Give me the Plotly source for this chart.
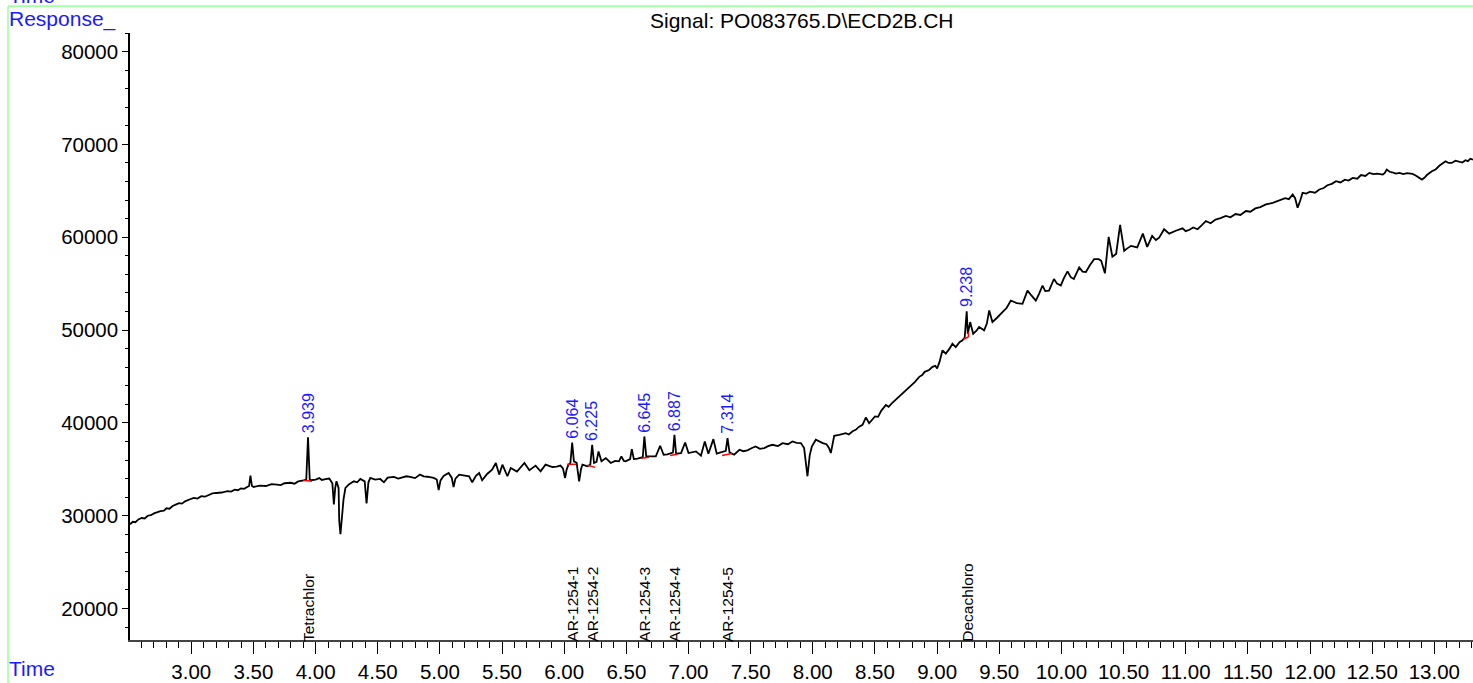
import plotly.graph_objects as go

# ---- chromatogram trace (time in min, response), in sections ----
time_a = [2.507, 2.53, 2.55, 2.575, 2.60, 2.625, 2.65, 2.675, 2.70, 2.725,
          2.752, 2.78, 2.80, 2.825, 2.85, 2.875, 2.90, 2.925, 2.95, 2.985,
          3.02, 3.05, 3.08, 3.11, 3.14, 3.17, 3.20, 3.245, 3.29, 3.32,
          3.35, 3.375, 3.40, 3.425, 3.45, 3.465, 3.476, 3.488, 3.503]
resp_a = [29075, 29350, 29300, 29600, 29750, 29700, 30000, 30050, 30250, 30400,
          30500, 30550, 30800, 30750, 31050, 31200, 31350, 31300, 31550, 31750,
          31925, 31850, 32100, 32050, 32250, 32400, 32450, 32500, 32640, 32600,
          32800, 32750, 32950, 32900, 33100, 33200, 34320, 33200, 33100]

time_b = [3.55, 3.60, 3.645, 3.69, 3.72, 3.75, 3.80, 3.83, 3.86, 3.905,
          3.925, 3.939, 3.953, 3.964, 4.00, 4.03, 4.05, 4.09, 4.11, 4.135,
          4.147, 4.158, 4.168, 4.185, 4.19, 4.20, 4.21, 4.225, 4.24, 4.27,
          4.308, 4.335, 4.36, 4.395, 4.41, 4.425, 4.44, 4.48, 4.52, 4.55,
          4.58, 4.63, 4.665, 4.70, 4.73, 4.76, 4.80, 4.84, 4.87, 4.90,
          4.95, 4.975, 4.99, 5.005, 5.03, 5.07, 5.095, 5.11, 5.125]
resp_b = [33250, 33200, 33400, 33360, 33300, 33500, 33550, 33450, 33700, 33820,
          33900, 38460, 33900, 33820, 33900, 34050, 33850, 33960, 34000, 33500,
          31220, 33000, 33710, 33000, 29500, 28000, 29800, 31800, 33000, 33400,
          33710, 33600, 33960, 33700, 31325, 33600, 34070, 33900, 33960, 33600,
          34100, 34180, 34000, 34100, 34250, 34180, 34050, 34430, 34250, 34200,
          34070, 33900, 32750, 33800, 34290, 34600, 34100, 33100, 34000]

time_c = [5.155, 5.20, 5.235, 5.26, 5.29, 5.316, 5.34, 5.38, 5.42, 5.45,
          5.477, 5.503, 5.543, 5.57, 5.62, 5.68, 5.72, 5.77, 5.81, 5.85,
          5.905, 5.94, 5.97, 5.99, 6.007, 6.02, 6.034, 6.05, 6.064, 6.078,
          6.10, 6.12, 6.135, 6.147, 6.187, 6.21, 6.225, 6.24, 6.26, 6.276,
          6.30, 6.335, 6.375, 6.41, 6.44, 6.46, 6.48, 6.495, 6.53, 6.544,
          6.56, 6.59, 6.616, 6.632, 6.645, 6.66, 6.69, 6.737, 6.772, 6.80,
          6.83, 6.858, 6.875, 6.887, 6.90, 6.94, 6.973, 7.00, 7.03, 7.06,
          7.10, 7.131, 7.16, 7.20, 7.227, 7.267, 7.30, 7.314, 7.33, 7.367,
          7.41, 7.44, 7.474, 7.51, 7.54, 7.575, 7.61, 7.64, 7.675, 7.72,
          7.756, 7.80, 7.836, 7.87, 7.904, 7.93, 7.957, 7.975, 7.992, 8.024,
          8.05, 8.08, 8.11, 8.13, 8.145, 8.172, 8.212]
resp_c = [34430, 34300, 34250, 33600, 34300, 34600, 33820, 34500, 34970, 35680,
          34430, 35500, 34250, 35140, 34750, 35680, 34890, 35400, 34790, 35500,
          35250, 35300, 35400, 35100, 34070, 35000, 35500, 35700, 37890, 35860,
          35700, 33710, 35000, 35500, 35320, 35500, 37640, 35680, 35800, 36930,
          35860, 36210, 35680, 35900, 35860, 36390, 35900, 35860, 36100, 37180,
          36100, 36150, 36210, 36300, 38540, 36400, 36390, 36390, 37540, 36570,
          36600, 36680, 36800, 38720, 36680, 36750, 37890, 36750, 36850, 36930,
          36470, 38000, 36680, 38250, 36680, 36820, 37000, 38360, 36820, 36570,
          37110, 36950, 37040, 37300, 37460, 37200, 37290, 37500, 37640, 37500,
          37820, 37700, 38000, 37850, 37820, 37290, 34250, 36500, 37460, 38180,
          38000, 37820, 37700, 37300, 36750, 38610, 38720]

time_d = [8.24, 8.265, 8.29, 8.32, 8.345, 8.373, 8.40, 8.427, 8.453, 8.48,
          8.50, 8.525, 8.55, 8.588, 8.61, 8.635, 8.66, 8.69, 8.72, 8.75,
          8.78, 8.80, 8.82, 8.856, 8.88, 8.90, 8.935, 8.963, 8.985, 9.00,
          9.02, 9.043, 9.07, 9.10, 9.123, 9.15, 9.18, 9.204, 9.222, 9.238,
          9.247, 9.266, 9.29, 9.315, 9.338, 9.378, 9.40, 9.419, 9.445, 9.48,
          9.526, 9.56, 9.593, 9.64, 9.687, 9.727, 9.76, 9.794, 9.82, 9.848,
          9.87, 9.90, 9.94, 9.965, 9.995, 10.02, 10.049, 10.075, 10.10, 10.143,
          10.17, 10.197, 10.23, 10.263, 10.30, 10.32, 10.35, 10.38, 10.41, 10.44,
          10.472, 10.505, 10.53, 10.56, 10.61, 10.655, 10.69, 10.73, 10.76, 10.786,
          10.826, 10.867, 10.92, 10.974]
resp_d = [38800, 38890, 38750, 39100, 39250, 39600, 39800, 40600, 39960, 40450,
          40700, 40650, 41300, 41930, 41740, 42100, 42400, 42800, 43180, 43450,
          43900, 44150, 44400, 44960, 45150, 45500, 45700, 46040, 46150, 45860,
          46600, 47820, 47460, 48000, 48530, 48170, 48700, 48890, 49200, 52030,
          49600, 50860, 49600, 49900, 50320, 49970, 50700, 52110, 50860, 51300,
          51930, 52400, 53180, 52900, 52820, 54250, 53700, 53180, 53900, 54790,
          54200, 54250, 55500, 55000, 54790, 55600, 56320, 55700, 55500, 56750,
          56300, 56250, 57000, 57640, 57640, 57460, 56110, 60040, 57900, 58200,
          61320, 58540, 58800, 59070, 58900, 60390, 58960, 60140, 59700, 59960,
          60860, 60390, 60700, 60960]

time_e = [11.00, 11.03, 11.06, 11.095, 11.13, 11.162, 11.20, 11.24, 11.28, 11.323,
          11.36, 11.40, 11.44, 11.484, 11.52, 11.56, 11.60, 11.645, 11.70, 11.752,
          11.80, 11.83, 11.86, 11.88, 11.90, 11.92, 11.94, 11.97, 12.00, 12.04,
          12.075, 12.11, 12.14, 12.175, 12.209, 12.245, 12.28, 12.31, 12.343, 12.38,
          12.41, 12.445, 12.477, 12.51, 12.54, 12.585, 12.60, 12.617, 12.64, 12.66,
          12.69, 12.72, 12.75, 12.78, 12.824, 12.85, 12.87, 12.90, 12.92, 12.94,
          12.98, 13.01, 13.04, 13.065, 13.09, 13.115, 13.14, 13.17, 13.20, 13.225,
          13.25, 13.27, 13.29, 13.311]
resp_e = [60650, 60800, 61050, 60860, 61300, 61750, 61500, 61900, 62050, 62290,
          62150, 62500, 62400, 62820, 62750, 63100, 63250, 63530, 63700, 63960,
          64200, 64100, 64600, 64200, 63180, 63900, 64790, 64700, 64900, 64800,
          65140, 65300, 65600, 65750, 66040, 65900, 66200, 66100, 66390, 66300,
          66700, 66600, 66930, 66800, 66850, 66750, 66900, 67290, 67050, 67000,
          66850, 66930, 66800, 66900, 66820, 66650, 66500, 66210, 66400, 66700,
          67110, 67300, 67700, 67900, 68180, 68000, 68000, 68250, 68180, 68050,
          68300, 68200, 68460, 68350]

# ---- integrated peaks ----
peak_rt = [3.939, 6.064, 6.225, 6.645, 6.887, 7.314, 9.238]
peak_top = [38460, 37890, 37640, 38540, 38720, 38360, 52030]
peak_names = ["Tetrachlor", "AR-1254-1", "AR-1254-2", "AR-1254-3", "AR-1254-4", "AR-1254-5", "Decachloro"]

# integration baselines (red)
base_t0 = [3.90, 6.024, 6.185, 6.62, 6.852, 7.27, 9.21, 9.252]
base_t1 = [3.97, 6.096, 6.25, 6.683, 6.909, 7.35, 9.252, 9.252]
base_r0 = [33820, 35540, 35430, 36180, 36500, 36500, 48990, 49250]
base_r1 = [33710, 35540, 35210, 36290, 36610, 36710, 49250, 49790]

# ---- axis ticks ----
x_ticks = [3.0, 3.5, 4.0, 4.5, 5.0, 5.5, 6.0, 6.5, 7.0, 7.5, 8.0, 8.5, 9.0, 9.5, 10.0, 10.5,
           11.0, 11.5, 12.0, 12.5, 13.0]
x_tick_text = ["3.00", "3.50", "4.00", "4.50", "5.00", "5.50", "6.00", "6.50", "7.00", "7.50", "8.00",
               "8.50", "9.00", "9.50", "10.00", "10.50", "11.00", "11.50", "12.00", "12.50", "13.00"]
y_ticks = [20000, 30000, 40000, 50000, 60000, 70000, 80000]
y_tick_text = ["20000", "30000", "40000", "50000", "60000", "70000", "80000"]

title_text = "Signal: PO083765.D\\ECD2B.CH"

time = time_a + time_b + time_c + time_d + time_e
response = resp_a + resp_b + resp_c + resp_d + resp_e

FONT = "Liberation Sans, Arial, sans-serif"
W, H = 1473, 683
ML, MR, MT, MB = 130, 0, 33, 38
PW, PH = W - ML - MR, H - MT - MB


def px_x(p):
    return (p - ML) / PW


def px_y(p):
    return 1 - (p - MT) / PH


fig = go.Figure()
fig.add_trace(go.Scatter(x=time, y=response, mode="lines",
                         line=dict(color="black", width=1.8), hoverinfo="skip", showlegend=False))

bx, by = [], []
for a, b, c, d in zip(base_t0, base_t1, base_r0, base_r1):
    bx += [a, b, None]
    by += [c, d, None]
fig.add_trace(go.Scatter(x=bx, y=by, mode="lines", line=dict(color="red", width=1.5),
                         hoverinfo="skip", showlegend=False))

annotations = []
for rt, top, name in zip(peak_rt, peak_top, peak_names):
    annotations.append(dict(x=rt, y=top, xref="x", yref="y", text=f"{rt:.3f}", textangle=-90,
                            showarrow=False, xanchor="center", yanchor="bottom", yshift=2,
                            font=dict(family=FONT, size=16, color="#1a1aff")))
    annotations.append(dict(x=rt, y=0, xref="x", yref="paper", text=name, textangle=-90,
                            showarrow=False, xanchor="center", yanchor="bottom", yshift=-4,
                            font=dict(family=FONT, size=15.5, color="black")))

annotations += [
    dict(x=px_x(801.5), y=px_y(20), xref="paper", yref="paper", text=title_text, showarrow=False,
         xanchor="center", yanchor="middle", font=dict(family=FONT, size=21, color="black")),
    dict(x=px_x(7), y=px_y(18.5), xref="paper", yref="paper", text="Response_", showarrow=False,
         xanchor="left", yanchor="middle", font=dict(family=FONT, size=21, color="#1a1aff")),
    dict(x=px_x(7), y=px_y(674), xref="paper", yref="paper", text="Time", showarrow=False,
         xanchor="left", yanchor="middle", font=dict(family=FONT, size=21, color="#1a1aff")),
    dict(x=px_x(7), y=px_y(-5), xref="paper", yref="paper", text="Time", showarrow=False,
         xanchor="left", yanchor="middle", font=dict(family=FONT, size=21, color="#1a1aff")),
]

shapes = [
    dict(type="line", xref="paper", yref="paper", x0=px_x(8), x1=px_x(8), y0=px_y(6), y1=px_y(690),
         line=dict(color="#80ff80", width=1.2)),
    dict(type="line", xref="paper", yref="paper", x0=px_x(8), x1=1.0, y0=px_y(6), y1=px_y(6),
         line=dict(color="#80ff80", width=1.2)),
]

fig.update_layout(
    width=W, height=H, margin=dict(l=ML, r=MR, t=MT, b=MB, pad=0),
    paper_bgcolor="white", plot_bgcolor="white",
    font=dict(family=FONT, size=20.5, color="black"),
    annotations=annotations, shapes=shapes, showlegend=False,
    xaxis=dict(range=[2.507, 13.311], tickmode="array", tickvals=x_ticks, ticktext=x_tick_text,
               ticks="outside", ticklen=12, tickwidth=1.3, tickcolor="black",
               showline=True, linecolor="#444", linewidth=2, showgrid=False, zeroline=False,
               tickfont=dict(family=FONT, size=20.5, color="black"),
               minor=dict(tickmode="linear", tick0=2.5, dtick=0.1, ticks="outside", ticklen=6,
                          tickwidth=1.2, tickcolor="black", showgrid=False)),
    yaxis=dict(range=[16613, 82000], tickmode="array", tickvals=y_ticks, ticktext=y_tick_text,
               ticks="outside", ticklen=6, tickwidth=1.3, tickcolor="black",
               showline=True, linecolor="black", linewidth=1.5, showgrid=False, zeroline=False,
               tickfont=dict(family=FONT, size=20.5, color="black"),
               minor=dict(tickmode="linear", tick0=0, dtick=2000, ticks="outside", ticklen=3,
                          tickwidth=1.2, tickcolor="black", showgrid=False)),
)

fig.write_html("out.html", config={"displayModeBar": False},
               post_script="document.body.style.margin='0';document.body.style.overflow='hidden';")
